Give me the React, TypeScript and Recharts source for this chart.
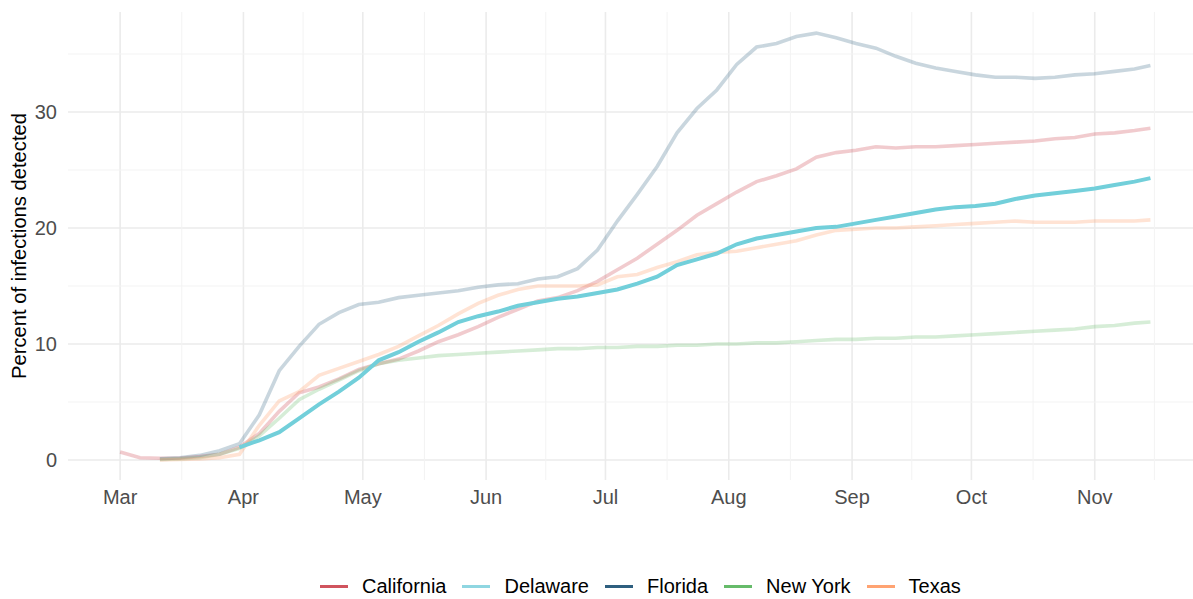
import React from "react";
import {
  LineChart,
  Line,
  XAxis,
  YAxis,
  CartesianGrid,
  ReferenceLine,
} from "recharts";

// day offsets from 1 March
const days = [
  0, 5, 10, 15, 20, 25, 30, 35, 40, 45, 50, 55, 60, 65, 70, 75, 80, 85, 90, 95,
  100, 105, 110, 115, 120, 125, 130, 135, 140, 145, 150, 155, 160, 165, 170,
  175, 180, 185, 190, 195, 200, 205, 210, 215, 220, 225, 230, 235, 240, 245,
  250, 255, 259,
];

const california = [
  0.7, 0.2, 0.15, 0.15, 0.3, 0.5, 1.1, 2.3, 4.2, 5.8, 6.3, 7.0, 7.8, 8.3, 8.7,
  9.4, 10.2, 10.8, 11.5, 12.3, 13.0, 13.7, 14.0, 14.6, 15.4, 16.4, 17.4, 18.6,
  19.8, 21.1, 22.1, 23.1, 24.0, 24.5, 25.1, 26.1, 26.5, 26.7, 27.0, 26.9, 27.0,
  27.0, 27.1, 27.2, 27.3, 27.4, 27.5, 27.7, 27.8, 28.1, 28.2, 28.4, 28.6,
];
const delaware = [
  null, null, null, null, null, null, 1.1, 1.7, 2.4, 3.6, 4.8, 5.9, 7.1, 8.6,
  9.3, 10.2, 11.0, 11.9, 12.4, 12.8, 13.3, 13.6, 13.9, 14.1, 14.4, 14.7, 15.2,
  15.8, 16.8, 17.3, 17.8, 18.6, 19.1, 19.4, 19.7, 20.0, 20.1, 20.4, 20.7, 21.0,
  21.3, 21.6, 21.8, 21.9, 22.1, 22.5, 22.8, 23.0, 23.2, 23.4, 23.7, 24.0, 24.3,
];
const florida = [
  null, null, 0.1, 0.2, 0.4, 0.8, 1.4, 3.9, 7.7, 9.8, 11.7, 12.7, 13.4, 13.6,
  14.0, 14.2, 14.4, 14.6, 14.9, 15.1, 15.2, 15.6, 15.8, 16.5, 18.1, 20.6, 22.9,
  25.3, 28.2, 30.3, 31.9, 34.1, 35.6, 35.9, 36.5, 36.8, 36.4, 35.9, 35.5, 34.8,
  34.2, 33.8, 33.5, 33.2, 33.0, 33.0, 32.9, 33.0, 33.2, 33.3, 33.5, 33.7, 34.0,
];
const newYork = [
  null, null, 0.05, 0.1, 0.2, 0.5, 1.0, 2.1, 3.6, 5.2, 6.1, 6.9, 7.7, 8.3, 8.6,
  8.8, 9.0, 9.1, 9.2, 9.3, 9.4, 9.5, 9.6, 9.6, 9.7, 9.7, 9.8, 9.8, 9.9, 9.9,
  10.0, 10.0, 10.1, 10.1, 10.2, 10.3, 10.4, 10.4, 10.5, 10.5, 10.6, 10.6, 10.7,
  10.8, 10.9, 11.0, 11.1, 11.2, 11.3, 11.5, 11.6, 11.8, 11.9,
];
const texas = [
  null, null, 0.0, 0.05, 0.1, 0.2, 0.5, 3.0, 5.1, 5.9, 7.3, 7.9, 8.5, 9.1, 9.8,
  10.7, 11.6, 12.6, 13.5, 14.2, 14.7, 15.0, 15.0, 15.0, 15.1, 15.8, 16.0, 16.6,
  17.1, 17.7, 17.9, 18.0, 18.3, 18.6, 18.9, 19.4, 19.8, 19.9, 20.0, 20.0, 20.1,
  20.2, 20.3, 20.4, 20.5, 20.6, 20.5, 20.5, 20.5, 20.6, 20.6, 20.6, 20.7,
];

const monthTicks = [0, 31, 61, 92, 122, 153, 184, 214, 245];
const monthLabels = ["Mar", "Apr", "May", "Jun", "Jul", "Aug", "Sep", "Oct", "Nov"];
const monthMinor = [15.5, 46, 76.5, 107, 137.5, 168.5, 199, 229.5, 260];
const yTicks = [0, 10, 20, 30];
const yMinor = [5, 15, 25, 35];

const states = [
  { key: "california", name: "California", color: "#d0545e", opacity: 0.3 },
  { key: "delaware", name: "Delaware", color: "#8fd6e1", opacity: 1 },
  { key: "florida", name: "Florida", color: "#2e5f7f", opacity: 0.26 },
  { key: "newYork", name: "New York", color: "#66bb6a", opacity: 0.27 },
  { key: "texas", name: "Texas", color: "#ffa372", opacity: 0.3 },
];

const data = days.map((d, i) => ({
  day: d,
  california: california[i],
  delaware: delaware[i],
  florida: florida[i],
  newYork: newYork[i],
  texas: texas[i],
}));

const font = "'Liberation Sans', Arial, sans-serif";

export default function App() {
  return (
    <div style={{ position: "absolute", left: 0, top: 0, width: 1193, height: 599, background: "#fff", fontFamily: font }}>
      <LineChart
        width={1193}
        height={599}
        data={data}
        margin={{ top: 12, right: 0, bottom: 79, left: 0 }}
      >
        <CartesianGrid
          stroke="#ebebeb"
          strokeWidth={1.6}
          horizontalValues={yTicks}
          verticalValues={monthTicks}
        />
        {monthMinor.map((m) => (
          <ReferenceLine key={"mx" + m} x={m} stroke="#f3f3f3" strokeWidth={1} />
        ))}
        {yMinor.map((m) => (
          <ReferenceLine key={"my" + m} y={m} stroke="#f3f3f3" strokeWidth={1} />
        ))}
        <XAxis
          dataKey="day"
          type="number"
          domain={[-13.1, 269.7]}
          allowDataOverflow
          ticks={monthTicks}
          tickFormatter={(v) => monthLabels[monthTicks.indexOf(v)]}
          axisLine={false}
          tickLine={false}
          tickSize={0}
          tickMargin={10}
          height={40}
          tick={{ fontSize: 20, fill: "#4d4d4d", fontFamily: font }}
        />
        <YAxis
          type="number"
          domain={[-1.72, 38.62]}
          allowDataOverflow
          ticks={yTicks}
          axisLine={false}
          tickLine={false}
          tickSize={0}
          tickMargin={11}
          width={68}
          tick={{ fontSize: 20, fill: "#4d4d4d", fontFamily: font }}
          label={{
            content: (props: any) => {
              const vb = props.viewBox;
              return (
                <text
                  transform={`translate(${vb.x + 26},${vb.y + vb.height / 2}) rotate(-90)`}
                  textAnchor="middle"
                  fontSize={20.2}
                  fill="#000"
                  fontFamily={font}
                >
                  Percent of infections detected
                </text>
              );
            },
          }}
        />
        {["california", "florida", "newYork", "texas"].map((k) => {
          const s = states.find((x) => x.key === k)!;
          return (
            <Line
              key={k}
              dataKey={k}
              name={s.name}
              type="linear"
              stroke={s.color}
              strokeOpacity={s.opacity}
              strokeWidth={3.6}
              dot={false}
              isAnimationActive={false}
            />
          );
        })}
        <Line
          dataKey="delaware"
          name="Delaware"
          type="linear"
          stroke="#72cfda"
          strokeWidth={4}
          dot={false}
          isAnimationActive={false}
        />
      </LineChart>
      <div
        style={{
          position: "absolute",
          left: 320,
          top: 575,
          display: "flex",
          alignItems: "center",
          fontSize: 20,
          color: "#000",
        }}
      >
        {states.map((s) => (
          <div key={s.key} style={{ display: "flex", alignItems: "center", marginRight: 16 }}>
            <div style={{ width: 28, height: 2.5, background: s.color, marginRight: 14 }} />
            <span>{s.name}</span>
          </div>
        ))}
      </div>
    </div>
  );
}
